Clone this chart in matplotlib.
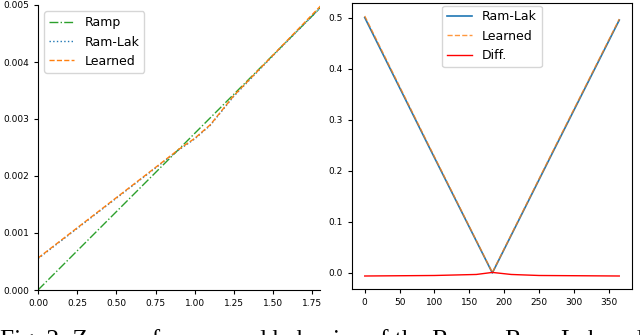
import numpy as np
import matplotlib.pyplot as plt

# left panel: zoom near origin
x_ramp = [0.0, 1.82]
ramp = [0.0, 0.0050]
x_filt = [0.0, 0.25, 0.5, 0.75, 0.9, 1.0, 1.1, 1.25, 1.5, 1.82]
ramlak = [0.00055, 0.00108, 0.00161, 0.00214, 0.00246, 0.00265, 0.00289, 0.00340, 0.00411, 0.00500]
learned = [0.00056, 0.00109, 0.00162, 0.00215, 0.00247, 0.00266, 0.00290, 0.00341, 0.00412, 0.00503]

# right panel: full filter over frequency bins
bins = [0, 91, 183, 274, 365]
ramlak_full = [0.500, 0.250, 0.000, 0.248, 0.495]
learned_full = [0.503, 0.252, 0.001, 0.250, 0.497]
diff_bins = [0, 100, 160, 183, 210, 250, 365]
diff = [-0.006, -0.005, -0.003, 0.001, -0.003, -0.005, -0.006]

caption = "Fig. 2: Zoom of recovered behavior of the Ramp, Ram-Lak and"

fig = plt.figure(figsize=(6.4, 3.35), dpi=100)
ax1 = fig.add_axes([38/640, 1-290/335, (320-38)/640, 285/335])
ax2 = fig.add_axes([352/640, 1-289/335, 280/640, 286/335])

ax1.plot(x_ramp, ramp, color='tab:green', ls='-.', lw=1, label='Ramp')
ax1.plot(x_filt, ramlak, color='tab:blue', ls=':', lw=1, label='Ram-Lak')
ax1.plot(x_filt, learned, color='tab:orange', ls='--', lw=1, label='Learned')
ax1.set_xlim(0, 1.80)
ax1.set_ylim(0, 0.005)
ax1.set_xticks([0, 0.25, 0.5, 0.75, 1.0, 1.25, 1.5, 1.75])
ax1.set_yticks([0, 0.001, 0.002, 0.003, 0.004, 0.005])
ax1.spines['top'].set_visible(False)
ax1.spines['right'].set_visible(False)
ax1.tick_params(labelsize=6.5, length=3, width=0.8)
ax1.legend(loc='upper left', fontsize=9, borderaxespad=0.5)

ax2.plot(bins, ramlak_full, color='tab:blue', lw=1.2, label='Ram-Lak')
ax2.plot(bins, learned_full, color='tab:orange', ls='--', lw=1, alpha=0.8, label='Learned')
ax2.plot(diff_bins, diff, color='red', lw=1, label='Diff.')
ax2.set_xticks(range(0, 351, 50))
ax2.set_yticks([0.0, 0.1, 0.2, 0.3, 0.4, 0.5])
ax2.tick_params(labelsize=6.5, length=3, width=0.8)
ax2.legend(loc='upper center', fontsize=9, borderaxespad=0.2)

# caption runs off the bottom edge, as in the source page crop
fig.text(0.0, 1-347/335, caption, family='Liberation Serif', fontsize=18.2,
         ha='left', va='baseline')

plt.savefig('out.png', dpi=100)
